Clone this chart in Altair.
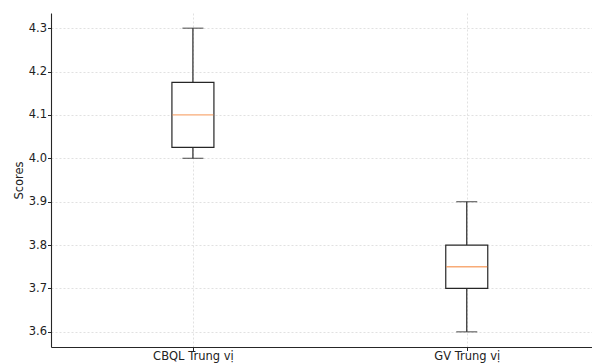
import altair as alt
import pandas as pd

categories = ["CBQL Trung vị", "GV Trung vị"]
positions = [1, 2]
whisker_low = [4.0, 3.6]
q1 = [4.025, 3.7]
median = [4.1, 3.75]
q3 = [4.175, 3.8]
whisker_high = [4.3, 3.9]
y_ticks = [3.6, 3.7, 3.8, 3.9, 4.0, 4.1, 4.2, 4.3]

df = pd.DataFrame({
    "group": categories,
    "pos": positions,
    "lo": whisker_low,
    "q1": q1,
    "med": median,
    "q3": q3,
    "hi": whisker_high,
})

label_expr = " : ".join(
    [f"datum.value == {p} ? '{c}'" for p, c in zip(positions, categories)] + ["''"]
)

FONT = "DejaVu Sans"
DARK = "#262626"
GRID = "#d9d9d9"
FS = 11.5

x_enc = alt.X(
    "pos:Q",
    scale=alt.Scale(domain=[0.5, 2.4391], nice=False, zero=False),
    axis=alt.Axis(
        values=positions, labelExpr=label_expr, title=None,
        grid=True, gridDash=[2, 2], gridColor=GRID, gridWidth=0.8,
        domainColor=DARK, domainWidth=1.1, tickColor=DARK, tickSize=3.5,
        labelFont=FONT, labelFontSize=FS, labelColor="#222", labelPadding=0,
    ),
)
y_scale = alt.Scale(domain=[3.565, 4.335], nice=False, zero=False)
y_axis = alt.Axis(
    values=y_ticks, format=".1f", title="Scores",
    grid=True, gridDash=[2, 2], gridColor=GRID, gridWidth=0.8,
    domainColor=DARK, domainWidth=1.1, tickColor=DARK, tickSize=3.5,
    labelFont=FONT, labelFontSize=FS, labelColor="#222", labelPadding=1,
    titleFont=FONT, titleFontSize=FS, titleFontWeight="normal", titleColor="#222",
    titlePadding=4,
)

base = alt.Chart(df).encode(x=x_enc)

whisker = base.mark_rule(color=DARK, strokeWidth=1.2).encode(
    y=alt.Y("lo:Q", scale=y_scale, axis=y_axis), y2="hi:Q"
)
box = base.mark_bar(size=42, fill="white", stroke=DARK, strokeWidth=1.2).encode(
    y="q1:Q", y2="q3:Q"
)
cap_lo = base.mark_tick(orient="horizontal", size=21, thickness=1.2, color=DARK).encode(
    y="lo:Q"
)
cap_hi = base.mark_tick(orient="horizontal", size=21, thickness=1.2, color=DARK).encode(
    y="hi:Q"
)
med = base.mark_tick(orient="horizontal", size=41, thickness=1.3, color="#f5873d").encode(
    y="med:Q"
)

chart = alt.layer(whisker, box, cap_lo, cap_hi, med).properties(
    width=541, height=334,
    background="white",
    autosize=alt.AutoSizeParams(type="none"),
    padding={"left": 43, "top": 5, "right": 0, "bottom": 20},
).configure_view(stroke=None)

chart.save("out.html", embed_options={"renderer": "svg", "actions": False})
